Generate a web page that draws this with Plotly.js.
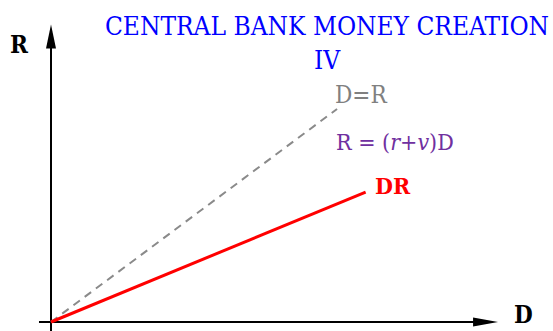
<!DOCTYPE html>
<html>
<head>
<meta charset="utf-8">
<script src="https://cdn.plot.ly/plotly-3.0.1.min.js"></script>
<style>html,body{margin:0;padding:0;background:#fff;}#chart{width:553px;height:331px;}</style>
</head>
<body>
<div id="chart"></div>
<script>
// Data (D on the horizontal axis, R on the vertical axis)
var dEqualsR_D = [0, 10];
var dEqualsR_R = [0, 10];
var drLine_D = [0, 11];
var drLine_R = [0, 6.1];
// Axis extents (data units)
var xAxisExtent = [-0.42, 15.63];
var yAxisExtent = [-0.42, 13.97];
var titleText = "CENTRAL BANK MONEY CREATION<br>IV";

var W = 553, H = 331;
var xRange = [-1.783, 17.55];
var yRange = [-0.4225, 15.117];
var pxX = W / (xRange[1] - xRange[0]);
var pxY = H / (yRange[1] - yRange[0]);

// arrowheads (pixel sizes converted to data units)
var xHeadLen = 25 / pxX, xHeadHalf = 4.5 / pxY;
var yHeadLen = 24 / pxY, yHeadHalf = 5 / pxX;
var xt = xAxisExtent[1], yt = yAxisExtent[1];

var traces = [
  {x: [xAxisExtent[0], xt - xHeadLen*0.8], y: [0, 0], mode: 'lines', line: {color: '#000', width: 2}, hoverinfo: 'skip'},
  {x: [0, 0], y: [yAxisExtent[0], yt - yHeadLen*0.8], mode: 'lines', line: {color: '#000', width: 2}, hoverinfo: 'skip'},
  {x: dEqualsR_D, y: dEqualsR_R, mode: 'lines', line: {color: '#8a8a8a', width: 2, dash: '8px,6px'}, hoverinfo: 'skip'},
  {x: drLine_D, y: drLine_R, mode: 'lines', line: {color: '#ff0000', width: 3}, hoverinfo: 'skip'}
];

var shapes = [
  {type: 'path', xref: 'x', yref: 'y', fillcolor: '#000', line: {width: 0},
   path: 'M' + xt + ',0 L' + (xt - xHeadLen) + ',' + xHeadHalf + ' L' + (xt - xHeadLen) + ',' + (-xHeadHalf) + ' Z'},
  {type: 'path', xref: 'x', yref: 'y', fillcolor: '#000', line: {width: 0},
   path: 'M0,' + yt + ' L' + yHeadHalf + ',' + (yt - yHeadLen) + ' L' + (-yHeadHalf) + ',' + (yt - yHeadLen) + ' Z'}
];

var serif = 'DejaVu Serif Condensed, Liberation Serif, serif';
function lab(px, py, text, size, color) {
  return {xref: 'paper', yref: 'paper', x: px / W, y: 1 - py / H, xanchor: 'center', yanchor: 'middle',
          text: text, showarrow: false, font: {family: serif, size: size, color: color}};
}
var annotations = [
  lab(19, 44, '<b>R</b>', 24, '#000'),
  lab(523, 314, '<b>D</b>', 24, '#000'),
  lab(361, 95, 'D=R', 24, '#808080'),
  lab(395, 142, 'R = (<i>r</i>+<i>v</i>)D', 23, '#7030a0'),
  lab(393, 185, '<b>DR</b>', 23, '#ff0000')
];

var layout = {
  width: W, height: H,
  margin: {l: 0, r: 0, t: 0, b: 0},
  paper_bgcolor: '#fff', plot_bgcolor: '#fff',
  showlegend: false,
  title: {text: titleText, x: 327/W, xanchor: 'center', xref: 'container', y: 1 - 35/H, yanchor: 'top', yref: 'container',
          font: {family: serif, size: 26, color: '#0000ff'}},
  xaxis: {range: xRange, visible: false, fixedrange: true},
  yaxis: {range: yRange, visible: false, fixedrange: true},
  shapes: shapes,
  annotations: annotations
};

Plotly.newPlot('chart', traces, layout, {staticPlot: true, displayModeBar: false});
</script>
</body>
</html>
